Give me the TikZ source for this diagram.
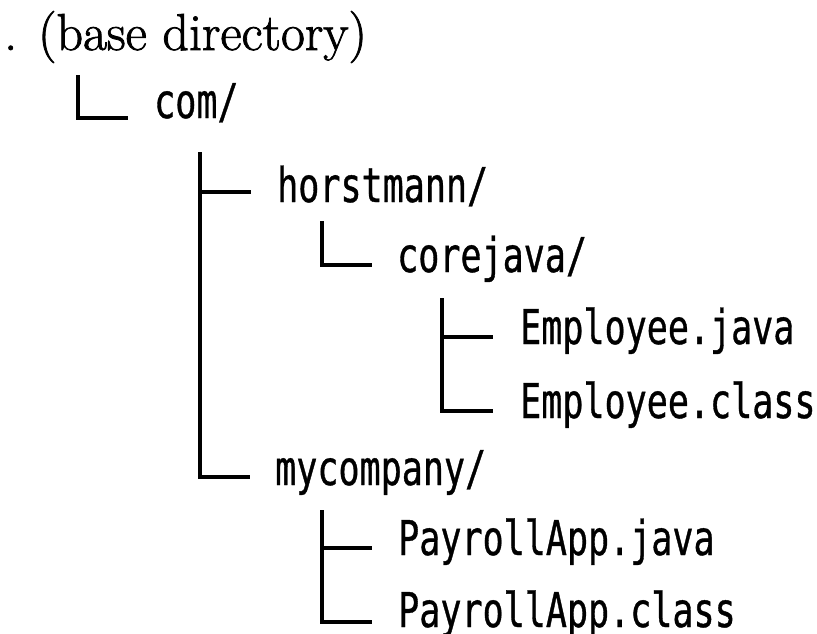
\documentclass[tikz,border=0pt]{standalone}
\usepackage{fontspec}
\newfontfamily\treemono[FakeStretch=0.73,FakeBold=0.7]{DejaVu Sans Mono}
\newfontfamily\rootserif[FakeBold=1.5]{Latin Modern Roman}
\usetikzlibrary{calc}
\tikzset{
  x=1pt, y=1pt,
  entry/.style={anchor=base west, inner sep=0pt, font=\treemono\fontsize{48}{48}\selectfont},
  rootlabel/.style={anchor=base west, inner sep=0pt, font=\rootserif\fontsize{52}{52}\selectfont},
  tree/.style={line width=3.2pt, black}
}
\begin{document}
\begin{tikzpicture}
\useasboundingbox (0,0) rectangle (817,-633);
% labels
\node[rootlabel] (base) at (4,-50) {. (base directory)};
\node[entry] (com) at (154,-118) {com/};
\node[entry] (horst) at (277,-202) {horstmann/};
\node[entry] (core) at (397,-272) {corejava/};
\node[entry] (ejava) at (520,-344) {Employee.java};
\node[entry] (eclass) at (520,-418) {Employee.class};
\node[entry] (myco) at (275,-485) {mycompany/};
\node[entry] (pjava) at (398,-555) {PayrollApp.java};
\node[entry] (pclass) at (398,-627) {PayrollApp.class};
% ends of the horizontal strokes
\coordinate (comE) at ([shift={(-26pt,0pt)}]com.base west);
\coordinate (horstE) at ([shift={(-26pt,10pt)}]horst.base west);
\coordinate (coreE) at ([shift={(-25pt,7pt)}]core.base west);
\coordinate (ejavaE) at ([shift={(-27pt,7pt)}]ejava.base west);
\coordinate (eclassE) at ([shift={(-27pt,7pt)}]eclass.base west);
\coordinate (mycoE) at ([shift={(-25pt,8pt)}]myco.base west);
\coordinate (pjavaE) at ([shift={(-26pt,7pt)}]pjava.base west);
\coordinate (pclassE) at ([shift={(-26pt,5pt)}]pclass.base west);
% tops of the vertical strokes
\coordinate (t1) at (78,-75);
\coordinate (t2) at (200,-152);
\coordinate (t3) at (322,-221);
\coordinate (t4) at (442,-298);
\coordinate (t5) at (322,-510);
% connectors
\draw[tree] (t1) |- (comE);
\draw[tree] (t2) |- (mycoE);
\draw[tree] (t2 |- horstE) -- (horstE);
\draw[tree] (t3) |- (coreE);
\draw[tree] (t4) |- (eclassE);
\draw[tree] (t4 |- ejavaE) -- (ejavaE);
\draw[tree] (t5) |- (pclassE);
\draw[tree] (t5 |- pjavaE) -- (pjavaE);
\end{tikzpicture}
\end{document}
